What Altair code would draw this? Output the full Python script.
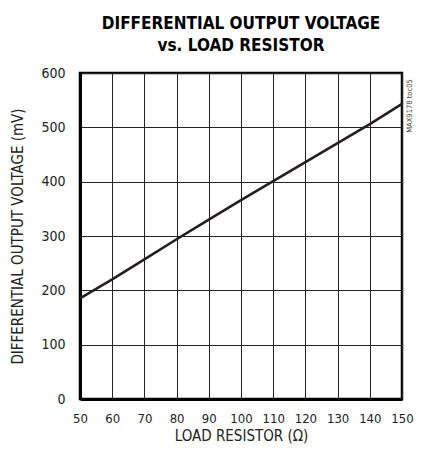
import altair as alt
import pandas as pd

resistor = [50, 60, 70, 80, 90, 100, 110, 120, 130, 140, 150]
voltage = [185, 220, 257, 294, 330, 366, 401, 436, 471, 506, 543]

df = pd.DataFrame({"R": resistor, "V": voltage})

FONT = "DejaVu Sans Condensed"

line = alt.Chart(df).mark_line(color="#231f20", strokeWidth=2.6).encode(
    x=alt.X("R:Q", scale=alt.Scale(domain=[50, 150], nice=False),
            axis=alt.Axis(values=list(range(50, 151, 10)), title="LOAD RESISTOR (Ω)",
                          tickSize=0, labelPadding=13, titlePadding=3, labelOverlap=False,
                          labelFlush=False, labelFontSize=13, domainWidth=3, domainColor="black",
                          gridColor="#222", gridWidth=1)),
    y=alt.Y("V:Q", scale=alt.Scale(domain=[0, 600], nice=False),
            axis=alt.Axis(values=list(range(0, 601, 100)), title="DIFFERENTIAL OUTPUT VOLTAGE (mV)",
                          tickSize=0, labelPadding=15, titlePadding=15, labelOverlap=False,
                          labelFlush=False, labelFontSize=14, domainWidth=3, domainColor="black",
                          gridColor="#222", gridWidth=1)),
)

mark = alt.Chart(pd.DataFrame({"t": ["MAX9178 toc05"]})).mark_text(
    angle=270, font=FONT, fontSize=7.5, color="#444", align="center", baseline="middle"
).encode(x=alt.value(329.5), y=alt.value(33), text="t:N")

chart = alt.layer(line, mark).properties(
    width=322, height=326,
    autosize=alt.AutoSizeParams(type="none"),
    padding={"left": 72, "top": 65, "right": 12, "bottom": 48},
    title=alt.TitleParams(["DIFFERENTIAL OUTPUT VOLTAGE", "vs. LOAD RESISTOR"],
                          font=FONT, fontSize=17, fontWeight="bold",
                          color="black", anchor="middle", offset=11, lineHeight=22),
).configure_axis(
    labelFont=FONT, labelColor="#222",
    titleFont=FONT, titleFontSize=15, titleFontWeight="normal", titleColor="#222",
).configure_view(stroke="black", strokeWidth=2.5)

chart.save("out.html", embed_options={"renderer": "svg", "actions": False})
